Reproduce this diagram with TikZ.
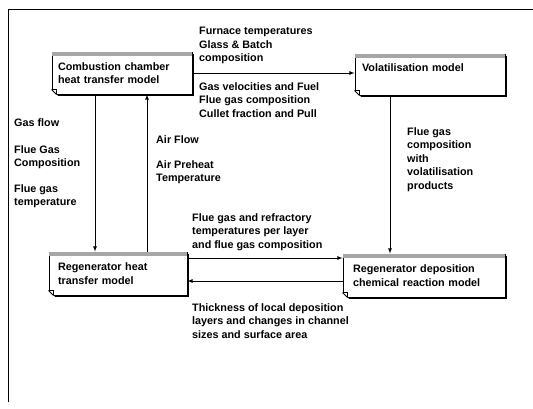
\documentclass[tikz,border=0pt]{standalone}
\usepackage{fontspec}
\setmainfont{Liberation Sans}
\usetikzlibrary{shadows}
\begin{document}
\begin{tikzpicture}[x=1pt,y=-1pt,
  every node/.style={font=\bfseries\fontsize{10.8}{13.5}\selectfont},
  model/.style={draw, fill=white, align=left, inner ysep=0pt, line width=0.9pt,
    drop shadow={shadow xshift=1.8pt, shadow yshift=-1.8pt, fill=black, opacity=1}},
  info/.style={anchor=north west, align=left, inner sep=0pt}]
\useasboundingbox (0,0) rectangle (533,408);
% frame
\draw [line width=0.8pt] (8,402) -- (8,9) -- (533,9);
% models
\node [model, text width=128pt, inner xsep=6pt, minimum height=42pt] (comb) at (122,73) {Combustion chamber\\heat transfer model};
\node [model, text width=136pt, inner xsep=7pt, minimum height=41pt] (vol) at (430,74.5) {Volatilisation model\\\mbox{}};
\node [model, text width=120pt, inner xsep=9pt, minimum height=43pt] (regheat) at (118,273.5) {Regenerator heat\\transfer model};
\node [model, text width=142pt, inner xsep=10pt, minimum height=43pt] (regdep) at (424,275.5) {Regenerator deposition\\chemical reaction model};
\foreach \m in {comb,vol,regheat,regdep}{
  \fill [gray!70] ([xshift=0.45pt,yshift=-0.45pt]\m.north west) rectangle ([xshift=-0.45pt,yshift=-4pt]\m.north east);
  \fill [white] ([xshift=-2pt,yshift=-2.5pt]\m.south west) -- ([xshift=-2pt,yshift=7pt]\m.south west) -- ([xshift=7.5pt,yshift=-2.5pt]\m.south west) -- cycle;
  \draw [line width=0.9pt] ([yshift=5pt]\m.south west) -- ([xshift=5pt]\m.south west);
  \draw [line width=0.6pt] ([yshift=5pt]\m.south west) -- ([xshift=5pt,yshift=5pt]\m.south west) -- ([xshift=5pt]\m.south west);
}
% labels
\node [info] (furn) at (199,27) {Furnace temperatures\\Glass \& Batch\\composition};
\node [info] (gasvel) at (199,82) {Gas velocities and Fuel\\Flue gas composition\\Cullet fraction and Pull};
\node [info] (gasflow) at (14,118) {Gas flow};
\node [info] (fluecomp) at (14,145) {Flue Gas\\Composition};
\node [info] (fluetemp) at (14,184) {Flue gas\\temperature};
\node [info] (airflow) at (156,135) {Air Flow};
\node [info] (airpre) at (156,160) {Air Preheat\\Temperature};
\node [info] (volprod) at (407,127) {Flue gas\\composition\\with\\volatilisation\\products};
\node [info] (refrac) at (192,213) {Flue gas and refractory\\temperatures per layer\\and flue gas composition};
\node [info] (thick) at (192,303) {Thickness of local deposition\\layers and changes in channel\\sizes and surface area};
% flows
\draw [>=latex, ->, line width=0.8pt] (comb.east) -- (comb.east -| vol.west);
\draw [>=latex, ->, line width=0.8pt] ([xshift=-27pt]comb.south) -- ([xshift=-27pt]comb.south |- regheat.north);
\draw [>=latex, ->, line width=0.8pt] ([xshift=25pt]comb.south |- regheat.north) -- ([xshift=25pt]comb.south);
\draw [>=latex, ->, line width=0.8pt] ([xshift=-40pt]vol.south) -- ([xshift=-40pt]vol.south |- regdep.north);
\draw [>=latex, ->, line width=0.8pt] ([yshift=15.5pt]regheat.east) -- ([yshift=15.5pt]regheat.east -| regdep.west);
\draw [>=latex, ->, line width=0.8pt] ([yshift=-7.5pt]regheat.east -| regdep.west) -- ([yshift=-7.5pt]regheat.east);
\end{tikzpicture}
\end{document}
